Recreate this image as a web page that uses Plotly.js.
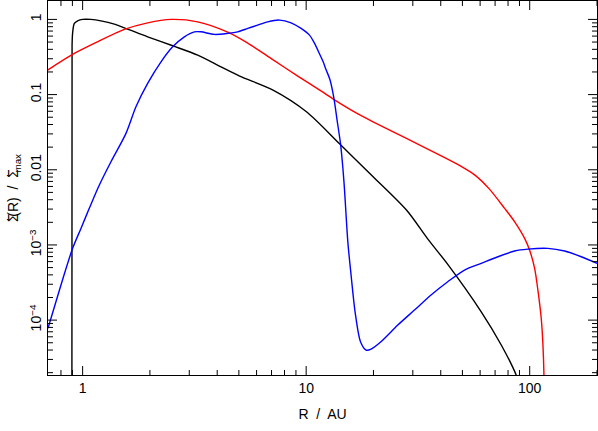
<!DOCTYPE html>
<html>
<head>
<meta charset="utf-8">
<script src="https://cdn.plot.ly/plotly-3.0.1.min.js"></script>
<style>
  html, body { margin: 0; padding: 0; background: #fff; }
  #chart { width: 598px; height: 431px; }
</style>
</head>
<body>
<div id="chart"></div>
<script>
// black curve
const blackR = [0.895, 0.897, 0.902, 0.918, 0.950, 1.0, 1.089, 1.207, 1.387, 1.590, 1.954, 2.528, 3.272, 4.16, 5.04, 7.11, 10.03, 14.14, 19.93, 28.1, 35.1, 43.0, 60.7, 74.6, 87.0, 95.0];
const blackS = [1e-6, 0.45, 0.657, 0.885, 0.958, 1.0, 1.0, 0.958, 0.866, 0.743, 0.587, 0.446, 0.335, 0.234, 0.176, 0.1148, 0.0591, 0.0220, 0.00807, 0.00291, 0.001185, 5.52e-4, 1.29e-4, 4.67e-5, 1.86e-5, 8e-6];

// red curve
const redR = [0.697, 0.902, 1.167, 1.537, 1.954, 2.485, 3.272, 4.458, 5.48, 7.09, 9.17, 11.50, 13.33, 16.50, 19.93, 28.1, 39.6, 48.7, 56.9, 66.2, 77.2, 85.8, 94.9, 100.2, 105.2, 108.8, 112.6, 114.6, 115.8, 116.3];
const redS = [0.2118, 0.3424, 0.5036, 0.736, 0.901, 1.0, 0.929, 0.678, 0.484, 0.292, 0.1762, 0.1148, 0.0858, 0.0585, 0.0435, 0.02616, 0.01569, 0.01137, 0.0085, 0.00549, 0.00307, 0.002016, 0.001224, 8.3e-4, 4.88e-4, 2.51e-4, 1.06e-4, 4.67e-5, 1.86e-5, 1e-6];

// blue curve
const blueR = [0.70, 0.800, 0.902, 0.983, 1.071, 1.188, 1.339, 1.563, 1.732, 1.954, 2.242, 2.528, 2.852, 3.163, 3.384, 3.886, 4.46, 4.94, 5.48, 6.07, 6.73, 7.60, 8.56, 9.49, 10.35, 10.9, 11.47, 11.90, 12.27, 12.76, 13.29, 13.75, 14.24, 14.58, 14.84, 15.36, 15.88, 16.55, 17.5, 18.54, 19.52, 21.6, 25.7, 30.5, 36.2, 43.0, 51.1, 60.7, 72.1, 85.6, 98.2, 120.6, 143.3, 170.1, 200];
const blueS = [7.8e-5, 2.93e-4, 9.01e-4, 1.66e-3, 3.07e-3, 6.26e-3, 0.01277, 0.0305, 0.0688, 0.141, 0.273, 0.432, 0.587, 0.684, 0.684, 0.632, 0.652, 0.684, 0.759, 0.840, 0.929, 0.98, 0.901, 0.759, 0.618, 0.480, 0.35, 0.275, 0.215, 0.16, 0.092, 0.0458, 0.0224, 0.01096, 0.00549, 1.10e-3, 3.98e-4, 1.29e-4, 5.16e-5, 4.00e-5, 4.12e-5, 5.16e-5, 8.6e-5, 1.36e-4, 2.16e-4, 3.24e-4, 4.64e-4, 5.69e-4, 6.97e-4, 8.30e-4, 8.8e-4, 9.0e-4, 8.30e-4, 6.97e-4, 5.69e-4];

// tick positions and labels
const xTickVals = [1, 10, 100];
const xTickText = ['1', '10', '100'];
const xMinorVals = [0.8, 0.9, 2, 3, 4, 5, 6, 7, 8, 9, 20, 30, 40, 50, 60, 70, 80, 90, 200];
const yTickVals = [1, 0.1, 0.01, 0.001, 0.0001];
const yTickText = ['1', '0.1', '0.01', '10<sup>\u22123</sup>', '10<sup>\u22124</sup>'];
const yMinorVals = [2e-5, 3e-5, 4e-5, 5e-5, 6e-5, 7e-5, 8e-5, 9e-5, 2e-4, 3e-4, 4e-4, 5e-4, 6e-4, 7e-4, 8e-4, 9e-4, 0.002, 0.003, 0.004, 0.005, 0.006, 0.007, 0.008, 0.009, 0.02, 0.03, 0.04, 0.05, 0.06, 0.07, 0.08, 0.09, 0.2, 0.3, 0.4, 0.5, 0.6, 0.7, 0.8, 0.9];

const W = 598, H = 431;
const margin = { l: 48, r: 1, t: 1, b: 56 };
const plotW = W - margin.l - margin.r;
const plotH = H - margin.t - margin.b;
const xRange = [Math.log10(0.7), Math.log10(200)];
const yRange = [-4.73, 0.245];
const xSpan = xRange[1] - xRange[0];
const ySpan = yRange[1] - yRange[0];

// inward tick marks on all four sides, built as one line trace with gaps
const tx = [], ty = [];
function xTicks(vals, len) {
    const d = len / plotH * ySpan;
    vals.forEach(v => {
        tx.push(v, v, null, v, v, null);
        ty.push(Math.pow(10, yRange[0]), Math.pow(10, yRange[0] + d), null,
                Math.pow(10, yRange[1] - d), Math.pow(10, yRange[1]), null);
    });
}
function yTicks(vals, len) {
    const d = len / plotW * xSpan;
    vals.forEach(v => {
        tx.push(Math.pow(10, xRange[0]), Math.pow(10, xRange[0] + d), null,
                Math.pow(10, xRange[1] - d), Math.pow(10, xRange[1]), null);
        ty.push(v, v, null, v, v, null);
    });
}
xTicks(xTickVals, 9);
xTicks(xMinorVals, 5);
yTicks(yTickVals, 9);
yTicks(yMinorVals, 5);

const lineStyle = (c) => ({ color: c, width: 1.4, shape: 'spline', smoothing: 0.8 });
const traces = [
    { x: blackR, y: blackS, mode: 'lines', line: lineStyle('#000000'), hoverinfo: 'skip' },
    { x: redR, y: redS, mode: 'lines', line: lineStyle('#ff0000'), hoverinfo: 'skip' },
    { x: blueR, y: blueS, mode: 'lines', line: lineStyle('#0000ff'), hoverinfo: 'skip' },
    { x: tx, y: ty, mode: 'lines', connectgaps: false, line: { color: '#000000', width: 1 }, hoverinfo: 'skip' }
];

const axisFont = { family: 'Liberation Sans, Arial, sans-serif', size: 14, color: '#000' };

// dotted sigma: a spacing dot pulled back over the Sigma with negative letter-spacing
const sigDot = '<span style="letter-spacing:-8px">Σ</span>\u02D9';

const layout = {
    width: W,
    height: H,
    margin: margin,
    paper_bgcolor: '#ffffff',
    plot_bgcolor: '#ffffff',
    showlegend: false,
    font: axisFont,
    xaxis: {
        type: 'log', range: xRange,
        tickmode: 'array', tickvals: xTickVals, ticktext: xTickText,
        ticks: '', showgrid: false, zeroline: false,
        showline: true, linecolor: '#000', linewidth: 1, mirror: true,
        tickfont: axisFont,
        title: { text: 'R  /  AU', font: axisFont, standoff: 14 }
    },
    yaxis: {
        type: 'log', range: yRange,
        tickmode: 'array', tickvals: yTickVals, ticktext: yTickText, tickangle: -90,
        ticks: '', showgrid: false, zeroline: false,
        showline: true, linecolor: '#000', linewidth: 1, mirror: true,
        tickfont: axisFont,
        title: { text: sigDot + '(R)  /  ' + sigDot + '<sub>max</sub>', font: axisFont, standoff: 4 }
    }
};

Plotly.newPlot('chart', traces, layout, { staticPlot: true, displayModeBar: false });
</script>
</body>
</html>
